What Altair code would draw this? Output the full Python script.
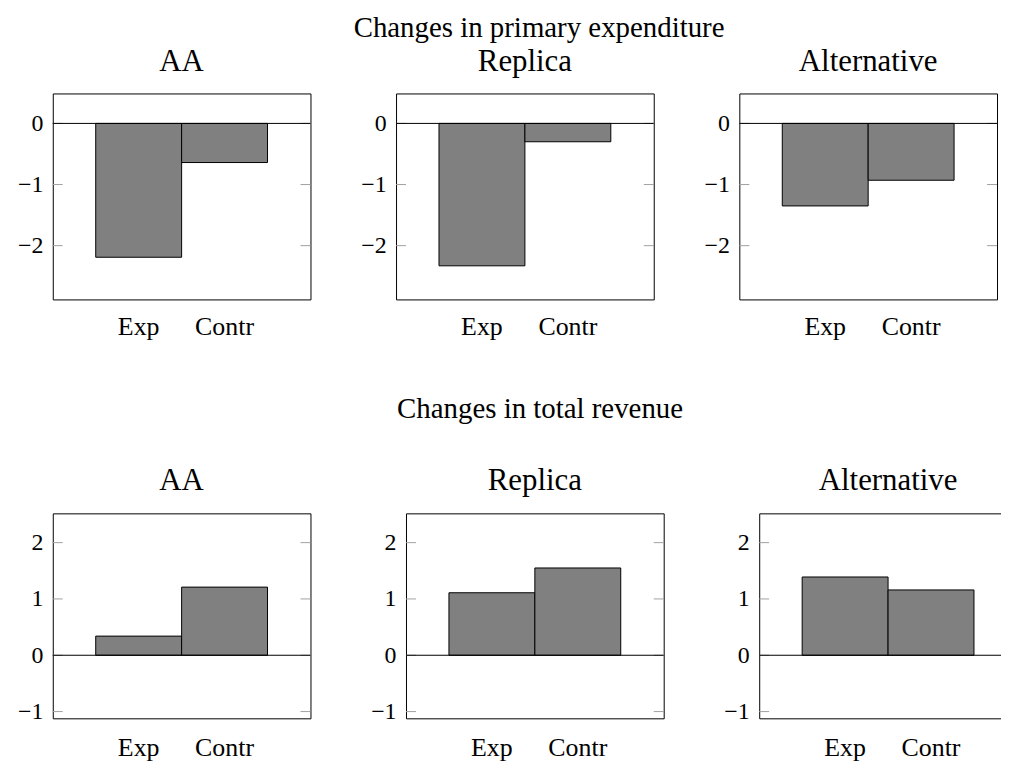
import altair as alt
import pandas as pd

# ---- data ----
categories = ["Exp", "Contr"]
scenarios = ["AA", "Replica", "Alternative"]
exp_change_exp = [-2.19, -2.33, -1.35]
exp_change_contr = [-0.64, -0.30, -0.93]
rev_change_exp = [0.34, 1.11, 1.39]
rev_change_contr = [1.21, 1.55, 1.16]
exp_ticks = [-2, -1, 0]
rev_ticks = [-1, 0, 1, 2]
exp_domain = [-2.88, 0.49]
rev_domain = [-1.12, 2.52]
row_titles = ["Changes in primary expenditure", "Changes in total revenue"]

FONT = "Liberation Serif"
W = 259
PFS = 31   # panel title size
RFS = 29   # row title size


def panel(title, vals, domain, ticks, h, title_offset, title_dy, label_pad):
    df = pd.DataFrame({"cat": categories, "val": vals})
    tdf = pd.DataFrame({"val": ticks})
    zdf = pd.DataFrame({"val": [0]})
    yscale = alt.Scale(domain=domain, nice=False, zero=False)
    yaxis = alt.Axis(values=ticks, title=None, ticks=False, tickSize=0, domain=False,
                     grid=False, labelFont=FONT, labelFontSize=24, labelColor="black",
                     labelPadding=10, minExtent=44, maxExtent=44)
    xenc = alt.X(
        "cat:N", sort=categories,
        scale=alt.Scale(paddingInner=0, paddingOuter=0.5),
        axis=alt.Axis(title=None, labelAngle=0, ticks=False, tickSize=0, domain=False,
                      labelFont=FONT, labelFontSize=26, labelColor="black",
                      labelPadding=label_pad),
    )
    bars = alt.Chart(df).mark_bar(color="#808080", stroke="black", strokeWidth=1).encode(
        x=xenc,
        y=alt.Y("val:Q", scale=yscale, axis=yaxis),
    )
    lt = alt.Chart(tdf).mark_rule(color="#a0a0a0", strokeWidth=1).encode(
        y=alt.Y("val:Q", scale=yscale, axis=yaxis), x=alt.value(0), x2=alt.value(10))
    rt = alt.Chart(tdf).mark_rule(color="#a0a0a0", strokeWidth=1).encode(
        y=alt.Y("val:Q", scale=yscale, axis=yaxis), x=alt.value(W - 10), x2=alt.value(W))
    zero = alt.Chart(zdf).mark_rule(color="black", strokeWidth=1).encode(
        y=alt.Y("val:Q", scale=yscale, axis=yaxis), x=alt.value(0), x2=alt.value(W))
    return alt.layer(bars, lt, rt, zero).properties(
        width=W, height=h,
        title=alt.TitleParams(title, font=FONT, fontSize=PFS, fontWeight="normal",
                              baseline="alphabetic", offset=title_offset, dy=title_dy,
                              anchor="middle", color="black"),
    )


top_panels = [
    panel(scenarios[i], [exp_change_exp[i], exp_change_contr[i]], exp_domain, exp_ticks,
          207, 0, 8, 14)
    for i in range(3)
]
bottom_panels = [
    panel(scenarios[i], [rev_change_exp[i], rev_change_contr[i]], rev_domain, rev_ticks,
          206, 0, 8, 16)
    for i in range(3)
]

row1 = alt.hconcat(*top_panels, spacing=40, title=alt.TitleParams(
    row_titles[0], anchor="middle", offset=0, dy=21, dx=36, baseline="alphabetic",
    fontSize=RFS, font=FONT, fontWeight="normal", color="black"))
row2 = alt.hconcat(*bottom_panels, spacing=50, title=alt.TitleParams(
    row_titles[1], anchor="middle", offset=18, baseline="alphabetic", fontSize=RFS,
    font=FONT, fontWeight="normal", color="black", dx=27))

chart = (
    alt.vconcat(row1, row2, spacing=55)
    .properties(padding={"top": 4, "left": 0, "right": -17, "bottom": 0},
                background="white")
    .configure_view(stroke="black", strokeWidth=1)
)

chart.save("out.html", embed_options={"renderer": "svg", "actions": False})
